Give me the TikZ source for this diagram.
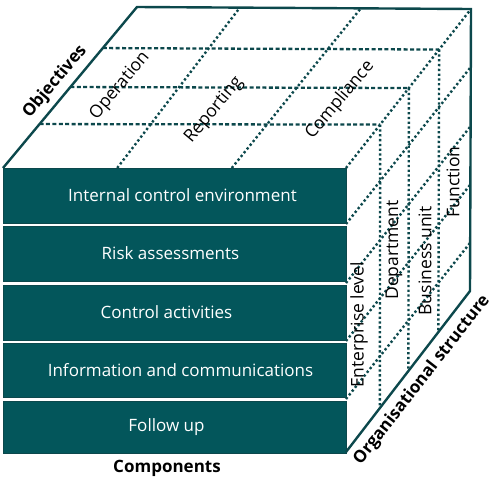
\documentclass[tikz,border=0pt]{standalone}
\usepackage{fontspec}
\setmainfont{Open Sans}
\usetikzlibrary{calc}
\definecolor{barfill}{RGB}{3,86,91}
\definecolor{edge}{RGB}{12,72,76}
\begin{document}
\begin{tikzpicture}[x=1pt,y=-1pt,
  solidedge/.style={draw=edge, line width=2.4pt, line join=miter},
  dotline/.style={draw=edge, line width=2.4pt, dash pattern=on 2.3pt off 2.5pt},
  dashline/.style={draw=edge, line width=2.3pt, dash pattern=on 4pt off 2.4pt},
  bar/.style={draw=edge, line width=0.8pt, fill=barfill, text=white, minimum width=343pt,
    inner sep=0pt, outer sep=0pt, font=\fontsize{17}{20}\selectfont},
  facelabel/.style={font=\fontsize{17.5}{20}\selectfont, inner sep=0pt},
  axislabel/.style={font=\bfseries\fontsize{17}{20}\selectfont, inner sep=0pt}]
\useasboundingbox (0,0) rectangle (500,488);
% cube corners
\coordinate (FTL) at (3,168);
\coordinate (FTR) at (346,168);
\coordinate (BTL) at (137,7);
\coordinate (BTR) at (471,9);
\coordinate (BBR) at (470,291);
\coordinate (FBR) at (346,452);
% front bars
\node[bar, minimum height=55pt] (b1) at (174.5,195.5) {\hspace*{16pt}Internal control environment};
\node[bar, minimum height=55pt] (b2) at (174.5,253.5) {\hspace*{-8pt}Risk assessments};
\node[bar, minimum height=55pt] (b3) at (174.5,312.5) {\hspace*{-16pt}Control activities};
\node[bar, minimum height=54pt] (b4) at (174.5,370) {\hspace*{12pt}Information and communications};
\node[bar, minimum height=52pt] (b5) at (174.5,427) {\hspace*{-16pt}Follow up};
% top face grid
\foreach \t in {0.745,0.503,0.273}{
  \draw[dashline] ($(FTL)!\t!(BTL)$) -- ($(FTR)!\t!(BTR)$);
  \draw[dotline] ($(FTR)!\t!(BTR)$) -- ($(FBR)!\t!(BBR)$);
}
\draw[dotline] ($(FTL)!0.333!(FTR)$) -- ($(BTL)!0.308!(BTR)$);
\draw[dotline] ($(FTL)!0.667!(FTR)$) -- ($(BTL)!0.67!(BTR)$);
% right face depth lines
\foreach \y in {224,283,341,399}{
  \draw[dotline] (346,\y) -- ++(124,-156);
}
\draw[dotline] (FTR) -- (BTR);
% outline
\draw[solidedge] (FTL) -- (BTL) -- (BTR) -- (BBR) -- (FBR);
% labels on faces
\node[facelabel, rotate=50] (op) at (120,86) {Operation};
\node[facelabel, rotate=50] (rep) at (214,110) {Reporting};
\node[facelabel, rotate=50] (comp) at (340,100) {Compliance};
\node[facelabel, rotate=90] (ent) at (359,325) {Enterprise level};
\node[facelabel, rotate=90] (dep) at (394,250) {Department};
\node[facelabel, rotate=90] (bu) at (425,261) {Business unit};
\node[facelabel, rotate=90] (fn) at (453,182) {Function};
% axis labels
\node[axislabel, rotate=50] (obj) at (55,82) {Objectives};
\node[axislabel, rotate=52] (org) at (422,380) {Organisational structure};
\node[axislabel] (cmp) at (167,468) {Components};
\end{tikzpicture}
\end{document}
